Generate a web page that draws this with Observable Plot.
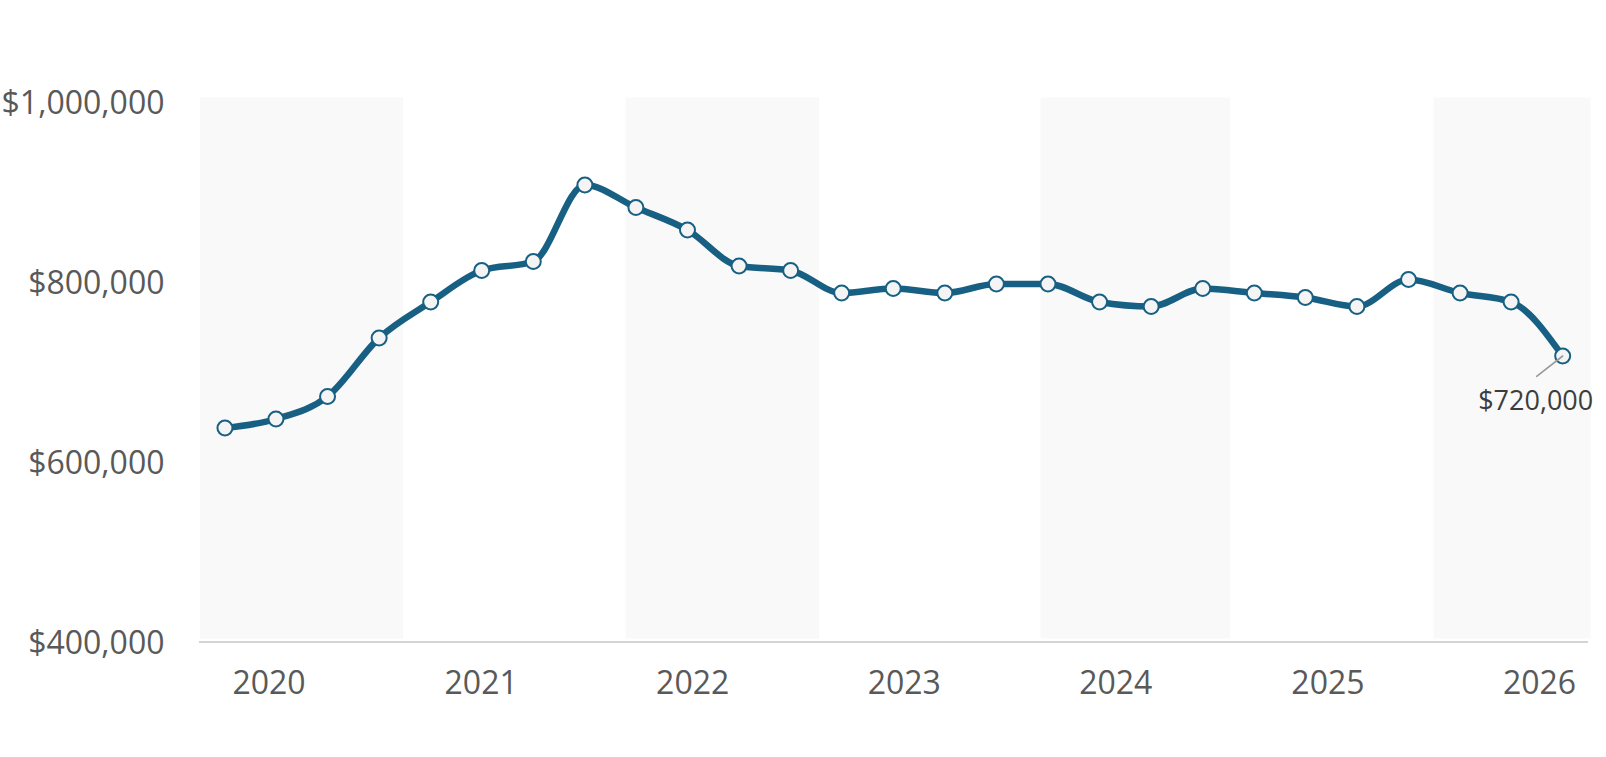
<!DOCTYPE html>
<html>
<head>
<meta charset="utf-8">
<script src="https://cdn.jsdelivr.net/npm/d3@7"></script>
<script src="https://cdn.jsdelivr.net/npm/@observablehq/plot@0.6"></script>
<style>
  html, body { margin: 0; padding: 0; background: #ffffff; }
  #chart { width: 1606px; height: 757px; }
</style>
</head>
<body>
<div id="chart"></div>
<script>
// Observation dates and median price values
const dates = [
  "2019-10-17", "2020-01-13", "2020-04-11", "2020-07-09", "2020-10-06",
  "2021-01-02", "2021-04-01", "2021-06-29", "2021-09-25", "2021-12-23",
  "2022-03-22", "2022-06-19", "2022-09-15", "2022-12-13", "2023-03-12",
  "2023-06-09", "2023-09-06", "2023-12-04", "2024-03-02", "2024-05-30",
  "2024-08-27", "2024-11-23", "2025-02-20", "2025-05-20", "2025-08-17",
  "2025-11-13", "2026-02-10"
];
const prices = [
  640000, 650000, 675000, 740000, 780000,
  815000, 825000, 910000, 885000, 860000,
  820000, 815000, 790000, 795000, 790000,
  800000, 800000, 780000, 775000, 795000,
  790000, 785000, 775000, 805000, 790000,
  780000, 720000
];
// Shaded background periods
const bandStarts = ["2019-09-05", "2021-09-08", "2023-08-25", "2025-07-03"];
const bandEnds   = ["2020-08-20", "2022-08-08", "2024-07-17", "2026-03-31"];
// Axis ticks
const yearTicks = ["2020", "2021", "2022", "2023", "2024", "2025", "2026"];
const yTicks = [400000, 600000, 800000, 1000000];

const data = dates.map((d, i) => ({date: new Date(d), price: prices[i]}));
const bands = bandStarts.map((s, i) => ({start: new Date(s), end: new Date(bandEnds[i])}));
const last = data[data.length - 1];
const lineColor = "#176083";
const money = d3.format("$,");

const leader = {
  draw(context, l) { context.moveTo(0, 0); context.lineTo(0, -l); }
};

const chart = Plot.plot({
  width: 1606,
  height: 757,
  marginLeft: 199,
  marginRight: 18,
  marginTop: 100,
  marginBottom: 113.5,
  x: {
    type: "utc",
    domain: [new Date(yearTicks[0] + "-01-01"), new Date(yearTicks[yearTicks.length - 1] + "-01-01")],
    range: [268.5, 1539]
  },
  y: {domain: [yTicks[0], yTicks[yTicks.length - 1]], range: [643.5, 103.5]},
  style: {fontFamily: "'Open Sans', sans-serif", color: "#595959", background: "#ffffff", overflow: "visible"},
  marks: [
    Plot.rect(bands, {
      x1: "start", x2: "end",
      y1: yTicks[0], y2: yTicks[yTicks.length - 1],
      fill: "#f9f9f9", insetTop: -6, insetBottom: 5
    }),
    Plot.ruleY([yTicks[0]], {stroke: "#d4d4d4", strokeWidth: 2, dy: -2}),
    Plot.axisY({
      ticks: yTicks, tickFormat: money, tickSize: 0, tickPadding: 35,
      fontSize: 32, fill: "#595959", label: null
    }),
    Plot.axisX({
      ticks: yearTicks.map(y => new Date(y + "-01-01")),
      tickFormat: d3.utcFormat("%Y"), tickSize: 0, tickPadding: 27,
      fontSize: 32, fill: "#595959", label: null
    }),
    Plot.line(data, {
      x: "date", y: "price", curve: "monotone-x",
      stroke: lineColor, strokeWidth: 6.5, strokeLinejoin: "round", strokeLinecap: "round"
    }),
    Plot.dot(data, {
      x: "date", y: "price", r: 7.5, fill: "#f4f4f4", stroke: lineColor, strokeWidth: 2
    }),
    Plot.vector([last], {
      x: "date", y: "price", anchor: "start", length: 33, rotate: 232,
      shape: leader, stroke: "#9a9a9a", strokeWidth: 1.6
    }),
    Plot.text([last], {
      x: "date", y: "price", text: d => money(d.price),
      dx: -27, dy: 45, fontSize: 27, fill: "#3d3d3d"
    })
  ]
});

document.getElementById("chart").appendChild(chart);
</script>
</body>
</html>
